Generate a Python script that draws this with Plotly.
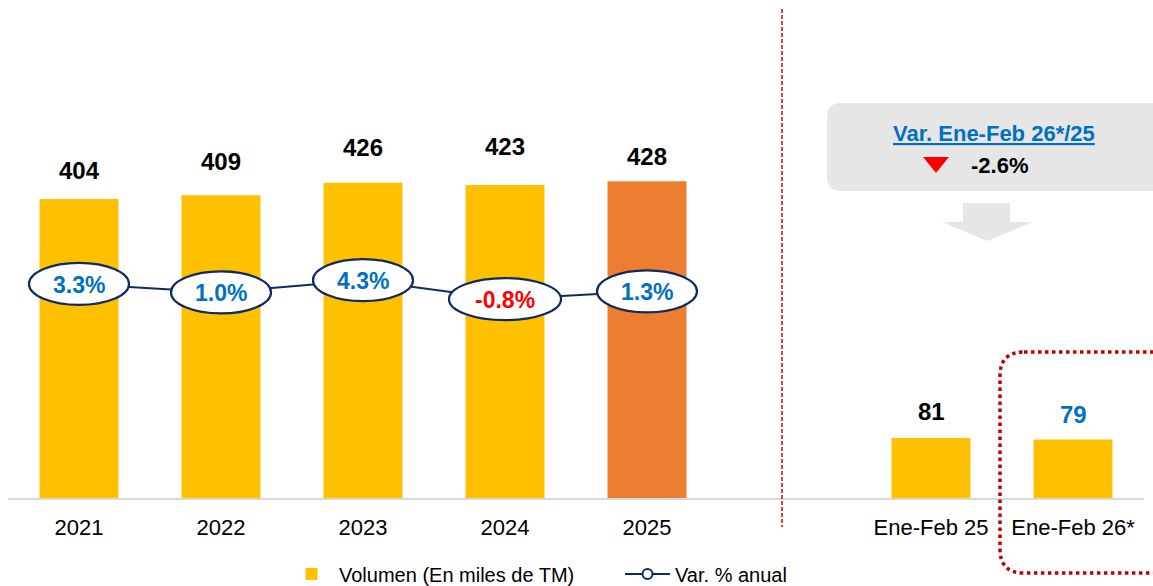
import plotly.graph_objects as go

# ---- data ----
years = ["2021", "2022", "2023", "2024", "2025"]
annual_volume = [404, 409, 426, 423, 428]
annual_var_pct = [3.3, 1.0, 4.3, -0.8, 1.3]
periods = ["Ene-Feb 25", "Ene-Feb 26*"]
period_volume = [81, 79]
period_var_pct = -2.6
spacer = " "

# ---- style ----
YELLOW = "#FFC000"
ORANGE = "#ED7D31"
NAVY = "#0E2A5F"
BLUE = "#0070C0"
RED = "#FF0000"
FONT = "Liberation Sans, Arial, sans-serif"
LABEL_YSHIFT = [29, 34, 35, 38, 25, 0, 27, 25]  # pixel offsets of value labels (as in source)

categories = years + [spacer] + periods
volumes = annual_volume + [None] + period_volume
bar_colors = [YELLOW] * 4 + [ORANGE] + [YELLOW] + [YELLOW, YELLOW]

fig = go.Figure()
fig.add_trace(go.Bar(
    x=categories, y=volumes, marker=dict(color=bar_colors, line=dict(width=0)),
    width=0.556, name="Volumen (En miles de TM)", hoverinfo="x+y",
))
fig.add_trace(go.Scatter(
    x=years, y=annual_var_pct, yaxis="y2", mode="lines+markers",
    line=dict(color=NAVY, width=2),
    marker=dict(symbol="circle", size=10, color="white", line=dict(color=NAVY, width=2)),
    name="Var. % anual",
))

# pixel -> paper helpers (plot area: x 8..1144, y 0..498)
L, W, H = 8, 1136, 498
def px(x):
    return (x - L) / W
def py(y):
    return (H - y) / H

def rrect(x0, y0, x1, y1, r):
    pts = [
        ("M", [(x0 + r, y0)]), ("L", [(x1 - r, y0)]), ("Q", [(x1, y0), (x1, y0 + r)]),
        ("L", [(x1, y1 - r)]), ("Q", [(x1, y1), (x1 - r, y1)]), ("L", [(x0 + r, y1)]),
        ("Q", [(x0, y1), (x0, y1 - r)]), ("L", [(x0, y0 + r)]), ("Q", [(x0, y0), (x0 + r, y0)]),
    ]
    s = ""
    for cmd, ps in pts:
        s += cmd + " " + " ".join(f"{px(a):.5f},{py(b):.5f}" for a, b in ps) + " "
    return s + "Z"

def poly(points):
    return "M " + " L ".join(f"{px(a):.5f},{py(b):.5f}" for a, b in points) + " Z"

shapes = []
annotations = []

# ellipses around line points
for yr, v in zip(years, annual_var_pct):
    idx = categories.index(yr)
    label = f"{v:.1f}%"
    half_w = 50 if len(label) <= 4 else 56
    shapes.append(dict(
        type="circle", xref="x", yref="y2", xsizemode="pixel", ysizemode="pixel",
        xanchor=idx, yanchor=v, x0=-half_w, x1=half_w, y0=-21, y1=21,
        fillcolor="white", line=dict(color=NAVY, width=2.2), layer="above",
    ))
    annotations.append(dict(
        x=idx, y=v, xref="x", yref="y2", text=f"<b>{label}</b>", showarrow=False,
        font=dict(family=FONT, size=23, color=RED if v < 0 else BLUE),
        yanchor="middle", yshift=-1,
    ))

# value labels above bars
for idx, (c, v) in enumerate(zip(categories, volumes)):
    if v is None:
        continue
    annotations.append(dict(
        x=idx, y=v, xref="x", yref="y", text=f"<b>{v}</b>", showarrow=False,
        font=dict(family=FONT, size=24, color=BLUE if c == periods[-1] else "black"),
        yanchor="middle", yshift=LABEL_YSHIFT[idx],
    ))

# separator
shapes.append(dict(type="line", xref="paper", yref="paper",
                   x0=px(782), x1=px(782), y0=py(9), y1=py(527),
                   line=dict(color="#E00000", width=1.5, dash="4px,2px")))

# grey info box
shapes.append(dict(type="path", xref="paper", yref="paper",
                   path=rrect(827, 103, 1175, 191, 14),
                   fillcolor="#E7E6E6", line=dict(width=0), layer="below"))
# grey arrow
shapes.append(dict(type="path", xref="paper", yref="paper",
                   path=poly([(963, 203), (1010, 203), (1010, 222), (1033, 222),
                              (987, 241), (942, 222), (963, 222)]),
                   fillcolor="#E7E6E6", line=dict(width=0)))
# red triangle
shapes.append(dict(type="path", xref="paper", yref="paper",
                   path=poly([(923, 157), (949, 157), (936, 173)]),
                   fillcolor=RED, line=dict(width=0)))
# red dotted frame
shapes.append(dict(type="path", xref="paper", yref="paper",
                   path=rrect(1000, 352, 1185, 573, 24),
                   fillcolor="rgba(0,0,0,0)", line=dict(color="#C00000", width=3.5, dash="dot")))

annotations.append(dict(
    x=px(994), y=py(133), xref="paper", yref="paper",
    text="<b><u>Var. Ene-Feb 26*/25</u></b>",
    showarrow=False, font=dict(family=FONT, size=22, color=BLUE),
    xanchor="center", yanchor="middle",
))
annotations.append(dict(
    x=px(999), y=py(165), xref="paper", yref="paper",
    text=f"<b>{period_var_pct:.1f}%</b>", showarrow=False,
    font=dict(family=FONT, size=22, color="black"), xanchor="center", yanchor="middle",
))

fig.update_layout(
    width=1153, height=586,
    margin=dict(l=L, r=1153 - L - W, t=0, b=586 - H, autoexpand=False),
    paper_bgcolor="white", plot_bgcolor="white",
    showlegend=True,
    font=dict(family=FONT, color="black"),
    xaxis=dict(type="category", categoryorder="array", categoryarray=categories,
               range=[-0.5, 7.5], showgrid=False, showline=True, linecolor="#D9D9D9",
               linewidth=2, ticks="", tickfont=dict(size=22, color="black"),
               ticklabelstandoff=9, zeroline=False, automargin=False),
    yaxis=dict(range=[0, 673], visible=False, showgrid=False, zeroline=False),
    yaxis2=dict(range=[-54.1, 79.4], overlaying="y", visible=False, showgrid=False,
                zeroline=False),
    legend=dict(orientation="h", x=px(284), xanchor="left", y=py(574), yanchor="middle",
                font=dict(size=20, color="black"), itemwidth=45, entrywidth=276,
                bgcolor="rgba(0,0,0,0)"),
    shapes=shapes, annotations=annotations,
)

fig.write_html(
    "out.html",
    config={"displayModeBar": False},
    post_script="document.body.style.margin='0';document.body.style.overflow='hidden';",
)
